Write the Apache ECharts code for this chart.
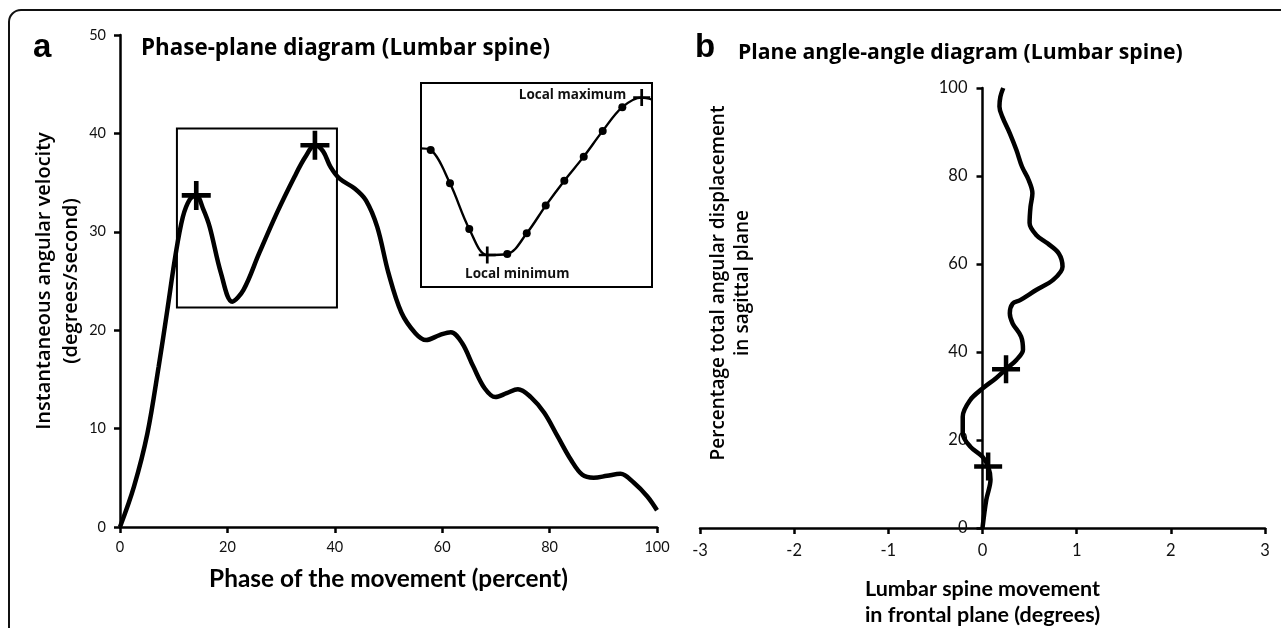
<!DOCTYPE html>
<html>
<head>
<meta charset="utf-8">
<script src="https://cdn.jsdelivr.net/npm/echarts@6/dist/echarts.min.js"></script>
<style>
html,body{margin:0;padding:0;background:#fff;}
#chart{width:1281px;height:628px;}
</style>
</head>
<body>
<div id="chart"></div>
<script>
// ---- Panel a: phase-plane diagram ----
const phaseA = [0, 2.6, 5.1, 7.2, 8.8, 10.3, 11.7, 13, 14.2, 15.5, 16.7, 18.8, 20.9, 23, 25.9, 29.2, 32.5, 34.5, 36.3, 37.8, 39.2, 40.9, 43.7, 45.8, 47.9, 50, 52.4, 55, 57, 59.5, 61.6, 63.7, 65.8, 67.9, 69.9, 72, 74.1, 76.5, 79, 81.5, 84, 86.1, 88.2, 90.7, 93.2, 95.7, 98.2, 100];
const velocityA = [0, 4.1, 9.5, 16.3, 22, 27.5, 31.5, 33.3, 33.7, 32.3, 30.5, 25.8, 22.9, 24.1, 27.8, 31.9, 35.6, 37.6, 38.8, 38.2, 36.6, 35.4, 34.4, 33.2, 30.5, 25.8, 21.8, 19.7, 19.0, 19.5, 19.8, 18.7, 16.3, 14.1, 13.2, 13.6, 14.0, 13.2, 11.6, 9.2, 6.8, 5.3, 5.0, 5.2, 5.4, 4.5, 3.1, 1.7];
const peakPhaseA = [14.2, 36.3];
const peakVelocityA = [33.7, 38.8];
const boxPhase = [10.6, 40.4];
const boxVelocity = [22.3, 40.5];
const xTicksA = [0, 20, 40, 60, 80, 100];
const yTicksA = [0, 10, 20, 30, 40, 50];

// inset (zoomed view of the segment between the two peaks)
const insetPhase = [14.4, 15.36, 17.27, 19.18, 20.96, 22.94, 24.87, 26.75, 28.59, 30.51, 32.39, 34.33, 36.25, 37.3];
const insetVelocity = [33.5, 33.35, 30.03, 25.49, 22.9, 23.0, 25.06, 27.81, 30.29, 32.68, 35.24, 37.60, 38.55, 38.35];
const insetPhaseRange = [14.4, 37.27];
const insetVelocityRange = [19.72, 40.0];
const insetLabels = ['Local minimum', 'Local maximum'];

// ---- Panel b: plane angle-angle diagram ----
const frontalB = [0, 0.04, 0.085, 0.06, 0, -0.13, -0.21, -0.21, -0.13, 0, 0.14, 0.25, 0.36, 0.43, 0.41, 0.32, 0.29, 0.32, 0.4, 0.57, 0.75, 0.85, 0.81, 0.69, 0.57, 0.50, 0.51, 0.53, 0.49, 0.42, 0.36, 0.29, 0.21, 0.18, 0.19, 0.22];
const percentB = [0, 6.4, 11, 14, 16.2, 18.5, 21.5, 25.3, 29.1, 31.7, 34, 36.1, 38.2, 40.5, 43.5, 46.5, 48.8, 51, 51.8, 54.1, 56.4, 59.4, 62.4, 64.7, 66.6, 69.3, 73, 76.1, 79.1, 82.1, 85.9, 89.7, 93.5, 95.8, 98, 100];
const crossFrontalB = [0.06, 0.25];
const crossPercentB = [14, 36.1];
const xTicksB = [-3, -2, -1, 0, 1, 2, 3];
const yTicksB = [0, 20, 40, 60, 80, 100];

// ---- text ----
const panelLetters = ['a', 'b'];
const panelTitles = ['Phase-plane diagram (Lumbar spine)', 'Plane angle-angle diagram (Lumbar spine)'];
const xTitleA = 'Phase of the movement (percent)';
const yTitleA = 'Instantaneous angular velocity\n(degrees/second)';
const xTitleB = 'Lumbar spine movement\nin frontal plane (degrees)';
const yTitleB = 'Percentage total angular displacement\nin sagittal plane';

const zip = (a, b) => a.map((v, i) => [v, b[i]]);
const CROSS = 'path://M0,42H42V0H58V42H100V58H58V100H42V58H0Z';

const axisLineStyle = { lineStyle: { color: '#000', width: 2.5 } };
const tickStyle = (len) => ({ show: true, length: len, lineStyle: { color: '#000', width: 2.5 } });
const labelStyle = (size, margin) => ({ color: '#111', fontFamily: 'Lato', fontSize: size, margin: margin });

// inset data with markers derived from the data
const iMin = insetVelocity.indexOf(Math.min(...insetVelocity));
const iMax = insetVelocity.indexOf(Math.max(...insetVelocity));
const insetData = insetPhase.map((p, i) => {
  const item = { value: [p, insetVelocity[i]] };
  if (i === 0 || i === insetPhase.length - 1) {
    item.symbol = 'none';
  } else if (i === iMin || i === iMax) {
    item.symbol = CROSS;
    item.symbolSize = 17;
    item.label = {
      show: true,
      formatter: i === iMin ? insetLabels[0] : insetLabels[1],
      position: i === iMin ? 'bottom' : 'left',
      offset: i === iMin ? [30, 0] : [-3, -2],
      distance: 4,
      color: '#111', fontFamily: 'Open Sans', fontWeight: 'bold', fontSize: 13.5
    };
  }
  return item;
});

// pixel offset so the panel-b y axis sits on x = 0
const GRID_B_LEFT = 700, GRID_B_WIDTH = 565;
const yAxisBOffset = -GRID_B_WIDTH * (0 - xTicksB[0]) / (xTicksB[xTicksB.length - 1] - xTicksB[0]);

const chart = echarts.init(document.getElementById('chart'), null, { renderer: 'canvas' });
chart.setOption({
  backgroundColor: '#fff',
  animation: false,
  title: [
    { text: panelLetters[0], left: 33, top: 31, padding: 0, textStyle: { fontFamily: 'Liberation Sans', fontWeight: 'bold', fontSize: 33, color: '#000' } },
    { text: panelTitles[0], left: 141, top: 38, padding: 0, textStyle: { fontFamily: 'Open Sans', fontWeight: 'bold', fontSize: 22.4, color: '#000' } },
    { text: panelLetters[1], left: 695, top: 31, padding: 0, textStyle: { fontFamily: 'Liberation Sans', fontWeight: 'bold', fontSize: 33, color: '#000' } },
    { text: panelTitles[1], left: 738, top: 42, padding: 0, textStyle: { fontFamily: 'Open Sans', fontWeight: 'bold', fontSize: 21.2, color: '#000' } }
  ],
  graphic: [
    { type: 'rect', silent: true, shape: { x: 9, y: 10, width: 1400, height: 800, r: 12 }, style: { fill: 'none', stroke: '#111', lineWidth: 2 } },
    { type: 'text', silent: true, x: 731, y: 283, rotation: Math.PI / 2,
      style: { text: yTitleB, align: 'center', verticalAlign: 'middle', fill: '#000', font: '600 19px "Open Sans"', lineHeight: 24 } }
  ],
  grid: [
    { left: 120, top: 35, width: 537, height: 492, outerBoundsMode: 'none', containLabel: false },
    { left: GRID_B_LEFT, top: 88, width: GRID_B_WIDTH, height: 440, outerBoundsMode: 'none', containLabel: false },
    { left: 421, top: 83, width: 231, height: 204, show: true, borderColor: '#000', borderWidth: 2, backgroundColor: 'transparent', outerBoundsMode: 'none', containLabel: false }
  ],
  xAxis: [
    { gridIndex: 0, type: 'value', min: xTicksA[0], max: xTicksA[xTicksA.length - 1], interval: xTicksA[1] - xTicksA[0],
      axisLine: axisLineStyle, axisTick: tickStyle(6), splitLine: { show: false }, axisLabel: labelStyle(14.5, 13),
      name: xTitleA, nameLocation: 'middle', nameGap: 40,
      nameTextStyle: { fontFamily: 'Lato', fontWeight: 'bold', fontSize: 24.4, color: '#000' } },
    { gridIndex: 1, type: 'value', min: xTicksB[0], max: xTicksB[xTicksB.length - 1], interval: xTicksB[1] - xTicksB[0],
      axisLine: axisLineStyle, axisTick: tickStyle(6), splitLine: { show: false }, axisLabel: labelStyle(16.5, 14),
      name: xTitleB, nameLocation: 'middle', nameGap: 48,
      nameTextStyle: { fontFamily: 'Lato', fontWeight: 'bold', fontSize: 21.5, color: '#000', lineHeight: 26 } },
    { gridIndex: 2, type: 'value', min: insetPhaseRange[0], max: insetPhaseRange[1], show: false }
  ],
  yAxis: [
    { gridIndex: 0, type: 'value', min: yTicksA[0], max: yTicksA[yTicksA.length - 1], interval: yTicksA[1] - yTicksA[0],
      axisLine: Object.assign({ show: true }, axisLineStyle), axisTick: tickStyle(6), splitLine: { show: false }, axisLabel: labelStyle(14.5, 14),
      name: yTitleA, nameLocation: 'middle', nameGap: 35, nameRotate: 90,
      nameTextStyle: { fontFamily: 'Open Sans', fontWeight: 600, fontSize: 20, color: '#000', lineHeight: 27 } },
    { gridIndex: 1, type: 'value', min: yTicksB[0], max: yTicksB[yTicksB.length - 1], interval: yTicksB[1] - yTicksB[0],
      offset: yAxisBOffset,
      axisLine: Object.assign({ show: true, onZero: false }, axisLineStyle), axisTick: tickStyle(6), splitLine: { show: false }, axisLabel: labelStyle(16.5, 15) },
    { gridIndex: 2, type: 'value', min: insetVelocityRange[0], max: insetVelocityRange[1], show: false }
  ],
  series: [
    { type: 'line', xAxisIndex: 0, yAxisIndex: 0, data: zip(phaseA, velocityA), smooth: 0.35, symbol: 'none',
      lineStyle: { color: '#000', width: 4.5 }, z: 3,
      markArea: { silent: true, itemStyle: { color: 'rgba(0,0,0,0)', borderColor: '#000', borderWidth: 2 },
        data: [[{ coord: [boxPhase[0], boxVelocity[1]] }, { coord: [boxPhase[1], boxVelocity[0]] }]] } },
    { type: 'scatter', xAxisIndex: 0, yAxisIndex: 0, data: zip(peakPhaseA, peakVelocityA), symbol: CROSS, symbolSize: 29,
      itemStyle: { color: '#000', opacity: 1 }, z: 4 },
    { type: 'line', xAxisIndex: 1, yAxisIndex: 1, data: zip(frontalB, percentB), smooth: 0.35, symbol: 'none',
      lineStyle: { color: '#000', width: 4.5 }, z: 3 },
    { type: 'scatter', xAxisIndex: 1, yAxisIndex: 1, data: zip(crossFrontalB, crossPercentB), symbol: CROSS, symbolSize: 28,
      itemStyle: { color: '#000', opacity: 1 }, z: 4 },
    { type: 'line', xAxisIndex: 2, yAxisIndex: 2, data: insetData, smooth: 0.35, symbol: 'circle', symbolSize: 8, showSymbol: true,
      showAllSymbol: true, lineStyle: { color: '#000', width: 2.4 }, itemStyle: { color: '#000' }, clip: true, z: 5 }
  ]
});
</script>
</body>
</html>
